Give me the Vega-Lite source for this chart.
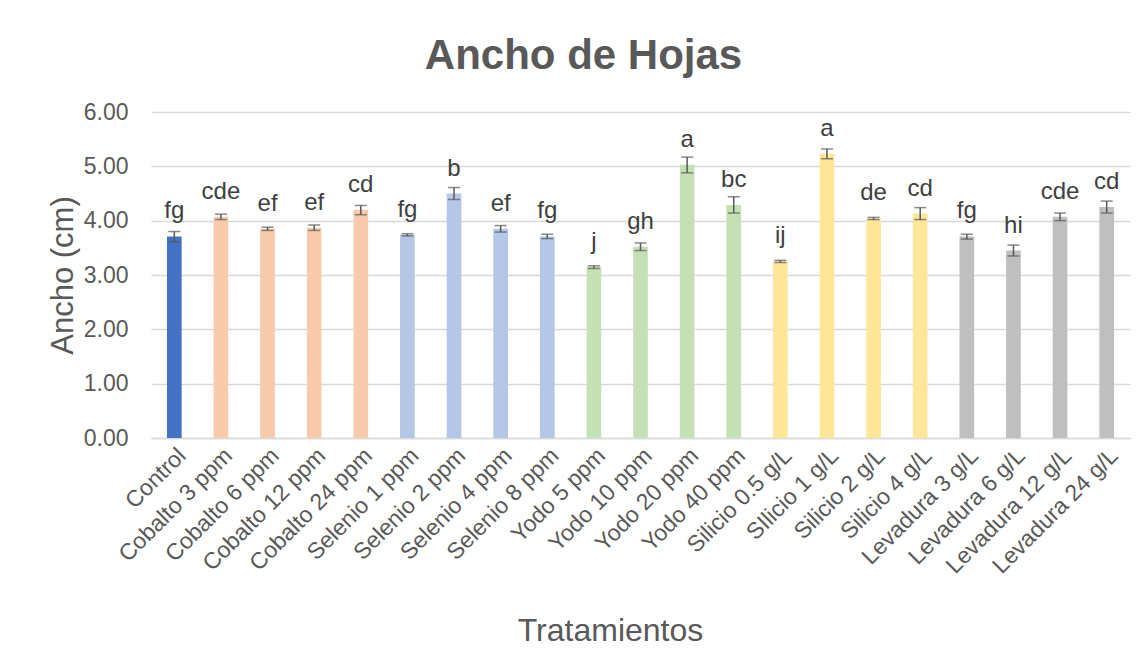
{
  "$schema": "https://vega.github.io/schema/vega-lite/v6.json",
  "autosize": "none",
  "width": 979,
  "height": 326,
  "padding": {"left": 151, "top": 112, "right": 16, "bottom": 228},
  "background": "white",
  "title": {
    "text": "Ancho de Hojas",
    "font": "Liberation Sans",
    "fontSize": 42,
    "fontWeight": "bold",
    "color": "#595959",
    "anchor": "middle",
    "frame": "group",
    "baseline": "alphabetic",
    "offset": 42,
    "dx": -57,
    "dy": 52
  },
  "config": {
    "view": {"stroke": null},
    "font": "Liberation Sans"
  },
  "data": {
    "values": [
      {"t": "Control", "g": "Control", "m": 3.71, "lo": 3.61, "hi": 3.80, "l": "fg"},
      {"t": "Cobalto 3 ppm", "g": "Cobalto", "m": 4.07, "lo": 4.02, "hi": 4.12, "l": "cde"},
      {"t": "Cobalto 6 ppm", "g": "Cobalto", "m": 3.85, "lo": 3.82, "hi": 3.88, "l": "ef"},
      {"t": "Cobalto 12 ppm", "g": "Cobalto", "m": 3.87, "lo": 3.82, "hi": 3.92, "l": "ef"},
      {"t": "Cobalto 24 ppm", "g": "Cobalto", "m": 4.20, "lo": 4.11, "hi": 4.28, "l": "cd"},
      {"t": "Selenio 1 ppm", "g": "Selenio", "m": 3.74, "lo": 3.72, "hi": 3.76, "l": "fg"},
      {"t": "Selenio 2 ppm", "g": "Selenio", "m": 4.50, "lo": 4.39, "hi": 4.61, "l": "b"},
      {"t": "Selenio 4 ppm", "g": "Selenio", "m": 3.85, "lo": 3.79, "hi": 3.91, "l": "ef"},
      {"t": "Selenio 8 ppm", "g": "Selenio", "m": 3.71, "lo": 3.67, "hi": 3.75, "l": "fg"},
      {"t": "Yodo 5 ppm", "g": "Yodo", "m": 3.15, "lo": 3.12, "hi": 3.17, "l": "j"},
      {"t": "Yodo 10 ppm", "g": "Yodo", "m": 3.52, "lo": 3.45, "hi": 3.59, "l": "gh"},
      {"t": "Yodo 20 ppm", "g": "Yodo", "m": 5.03, "lo": 4.88, "hi": 5.17, "l": "a"},
      {"t": "Yodo 40 ppm", "g": "Yodo", "m": 4.29, "lo": 4.14, "hi": 4.44, "l": "bc"},
      {"t": "Silicio 0.5 g/L", "g": "Silicio", "m": 3.25, "lo": 3.23, "hi": 3.27, "l": "ij"},
      {"t": "SIlicio 1 g/L", "g": "Silicio", "m": 5.23, "lo": 5.14, "hi": 5.32, "l": "a"},
      {"t": "Silicio 2 g/L", "g": "Silicio", "m": 4.04, "lo": 4.02, "hi": 4.06, "l": "de"},
      {"t": "Silicio 4 g/L", "g": "Silicio", "m": 4.13, "lo": 4.02, "hi": 4.24, "l": "cd"},
      {"t": "Levadura 3 g/L", "g": "Levadura", "m": 3.71, "lo": 3.66, "hi": 3.75, "l": "fg"},
      {"t": "Levadura 6 g/L", "g": "Levadura", "m": 3.45, "lo": 3.35, "hi": 3.55, "l": "hi"},
      {"t": "Levadura 12 g/L", "g": "Levadura", "m": 4.07, "lo": 4.00, "hi": 4.14, "l": "cde"},
      {"t": "Levadura 24 g/L", "g": "Levadura", "m": 4.25, "lo": 4.14, "hi": 4.36, "l": "cd"}
    ]
  },
  "encoding": {
    "x": {
      "field": "t",
      "type": "nominal",
      "sort": null,
      "scale": {"paddingInner": 0.685, "paddingOuter": 0.3425},
      "axis": {
        "title": "Tratamientos",
        "titleFont": "Liberation Sans",
        "titleFontSize": 32,
        "titleFontWeight": "normal",
        "titleColor": "#595959",
        "titleX": 459,
        "titleY": 202,
        "titleAlign": "center",
        "titleBaseline": "alphabetic",
        "labelAngle": -45,
        "labelFont": "Liberation Sans",
        "labelFontSize": 23,
        "labelColor": "#595959",
        "labelPadding": 6,
        "labelOverlap": false,
        "labelLimit": 300,
        "ticks": false,
        "domainColor": "#D9D9D9",
        "domainWidth": 1.5
      }
    }
  },
  "layer": [
    {
      "mark": {"type": "bar"},
      "encoding": {
        "y": {
          "field": "m",
          "type": "quantitative",
          "scale": {"domain": [0, 6]},
          "axis": {
            "title": "Ancho (cm)",
            "titleFont": "Liberation Sans",
            "titleFontSize": 31,
            "titleFontWeight": "normal",
            "titleColor": "#595959",
            "titleX": -79,
            "titleY": 163,
            "titleAlign": "center",
            "titleBaseline": "alphabetic",
            "titleAngle": -90,
            "values": [0, 1, 2, 3, 4, 5, 6],
            "format": ".2f",
            "labelFont": "Liberation Sans",
            "labelFontSize": 23,
            "labelColor": "#595959",
            "labelPadding": 23,
            "ticks": false,
            "domain": false,
            "grid": true,
            "gridColor": "#D9D9D9",
            "gridWidth": 1.3
          }
        },
        "color": {
          "field": "g",
          "type": "nominal",
          "legend": null,
          "scale": {
            "domain": ["Control", "Cobalto", "Selenio", "Yodo", "Silicio", "Levadura"],
            "range": ["#4472C4", "#F8CBAD", "#B4C7E7", "#C5E0B4", "#FFE699", "#BFBFBF"]
          }
        }
      }
    },
    {
      "mark": {"type": "rule", "color": "#595959", "strokeWidth": 1.5},
      "encoding": {
        "y": {"field": "lo", "type": "quantitative"},
        "y2": {"field": "hi"}
      }
    },
    {
      "mark": {"type": "tick", "color": "#595959", "thickness": 1.5, "size": 12, "orient": "horizontal"},
      "encoding": {"y": {"field": "lo", "type": "quantitative"}}
    },
    {
      "mark": {"type": "tick", "color": "#595959", "thickness": 1.5, "size": 12, "orient": "horizontal"},
      "encoding": {"y": {"field": "hi", "type": "quantitative"}}
    },
    {
      "mark": {"type": "text", "font": "Liberation Sans", "fontSize": 24, "color": "#404040", "baseline": "alphabetic", "dy": -18},
      "encoding": {
        "y": {"field": "m", "type": "quantitative"},
        "text": {"field": "l"}
      }
    }
  ]
}
